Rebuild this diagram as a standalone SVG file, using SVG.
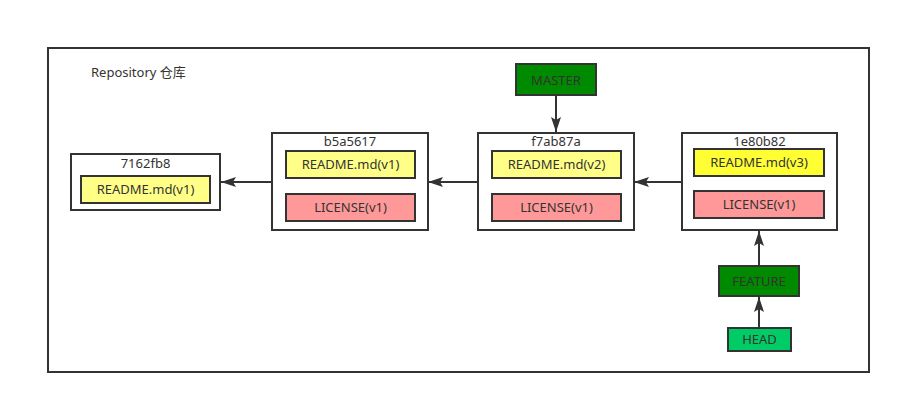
<svg xmlns="http://www.w3.org/2000/svg" width="901" height="404" viewBox="0 0 901 404">
<style>
text{font-family:"Noto Sans","Noto Sans CJK SC",sans-serif;font-size:13px;fill:#333;}
.c{text-anchor:middle;}
.box{fill:#fff;stroke:#333;stroke-width:2;}
.r1{fill:#ffff88;stroke:#333;stroke-width:2;}
.r3{fill:#ffff33;stroke:#333;stroke-width:2;}
.lic{fill:#ff9999;stroke:#333;stroke-width:2;}
.br{fill:#008a00;stroke:#333;stroke-width:2;}
.hd{fill:#00cc66;stroke:#333;stroke-width:2;}
.ln{stroke:#333;stroke-width:2;fill:none;marker-end:url(#ah);}
</style>
<defs>
<marker id="ah" viewBox="0 0 15 10" refX="15" refY="5" markerWidth="15" markerHeight="10" markerUnits="userSpaceOnUse" orient="auto">
<path d="M0,0 L15,5 L0,10 L3,5 Z" fill="#333"/>
</marker>
</defs>
<rect width="901" height="404" fill="#fff"/>
<g id="repo">
<rect x="48" y="48" width="821" height="324" fill="none" stroke="#333" stroke-width="2"/>
<text x="91" y="77">Repository 仓库</text>
</g>
<g id="c7162fb8">
<rect class="box" x="71" y="154" width="149" height="56"/>
<text class="c" x="145.5" y="167.5">7162fb8</text>
<rect class="r1" x="81" y="176" width="129" height="27"/>
<text class="c" x="145.5" y="194">README.md(v1)</text>
</g>
<g id="cb5a5617">
<rect class="box" x="272" y="133" width="156" height="97"/>
<text class="c" x="350" y="146">b5a5617</text>
<rect class="r1" x="286" y="151" width="129" height="27"/>
<text class="c" x="350.5" y="169">README.md(v1)</text>
<rect class="lic" x="286" y="194" width="129" height="27"/>
<text class="c" x="350.5" y="212">LICENSE(v1)</text>
</g>
<g id="cf7ab87a">
<rect class="box" x="478" y="133" width="156" height="97"/>
<text class="c" x="556" y="146">f7ab87a</text>
<rect class="r1" x="492" y="151" width="129" height="27"/>
<text class="c" x="556.5" y="169">README.md(v2)</text>
<rect class="lic" x="492" y="194" width="129" height="27"/>
<text class="c" x="556.5" y="212">LICENSE(v1)</text>
</g>
<g id="c1e80b82">
<rect class="box" x="682" y="133" width="155" height="97"/>
<text class="c" x="759.5" y="146">1e80b82</text>
<rect class="r3" x="694" y="149" width="130" height="27"/>
<text class="c" x="759" y="167">README.md(v3)</text>
<rect class="lic" x="694" y="191" width="130" height="27"/>
<text class="c" x="759" y="209">LICENSE(v1)</text>
</g>
<g id="master">
<rect class="br" x="516" y="64" width="80" height="31"/>
<text class="c" x="556" y="84.5">MASTER</text>
</g>
<g id="feature">
<rect class="br" x="719" y="266" width="80" height="30"/>
<text class="c" x="759" y="285.5">FEATURE</text>
</g>
<g id="head">
<rect class="hd" x="728" y="328" width="63" height="23"/>
<text class="c" x="759.5" y="344">HEAD</text>
</g>
<g id="connectors">
<line class="ln" x1="272" y1="182" x2="221" y2="182"/>
<line class="ln" x1="478" y1="182" x2="428" y2="182"/>
<line class="ln" x1="682" y1="182" x2="634" y2="182"/>
<line class="ln" x1="556" y1="95" x2="556" y2="132"/>
<line class="ln" x1="759" y1="266" x2="759" y2="231"/>
<line class="ln" x1="759" y1="328" x2="759" y2="297"/>
</g>
</svg>
